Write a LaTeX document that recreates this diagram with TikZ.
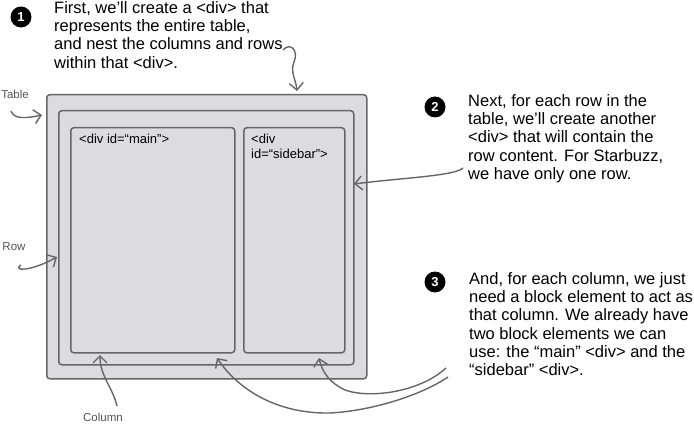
\documentclass[tikz,border=0pt]{standalone}
\usepackage{fontspec}
\setmainfont{Liberation Sans}
\usetikzlibrary{positioning,arrows.meta}
\definecolor{boxfill}{HTML}{DCDCDE}
\definecolor{boxline}{HTML}{666666}
\definecolor{handgray}{HTML}{555555}
\begin{document}
\begin{tikzpicture}[x=1pt,y=-1pt,
      box/.style={draw=boxline,fill=boxfill,line width=1.5pt,rounded corners=3pt,inner sep=0pt,anchor=north west},
      note/.style={anchor=north west,align=left,inner sep=0pt,font=\fontsize{16.5}{18.3}\selectfont},
      num/.style={circle,fill=black,text=white,minimum size=21pt,inner sep=0pt,font=\fontsize{13}{13}\selectfont\bfseries},
      divlabel/.style={anchor=north west,align=left,inner sep=0pt,font=\fontsize{13}{15}\selectfont},
      hand/.style={text=handgray,inner sep=0pt,font=\fontsize{11.5}{11.5}\selectfont},
      curve/.style={draw=boxline,line width=1.4pt,-{Straight Barb[length=7pt,width=14pt]}}
      ]
      \useasboundingbox (0,0) rectangle (694,425);
      % boxes
      \node[box,minimum width=320pt,minimum height=284pt] (table) at (46,94) {};
      \node[box,minimum width=295pt,minimum height=254pt] (row) at (58,110) {};
      \node[box,minimum width=164pt,minimum height=225pt] (main) at (70,127) {};
      \node[box,minimum width=101pt,minimum height=225pt] (sidebar) at (243,127) {};
      \node[divlabel] (mainlabel) at (79,134) {<div id=“main”>};
      \node[divlabel] (sidelabel) at (251,134) {<div\\ id=“sidebar”>};

      % notes
      \node[num] (n1) at (21,17) {1};
      \node[note] (note1) at (54,1) {First, we’ll create a <div> that\\represents the entire table,\\and nest the columns and rows\\within that <div>.};
      \node[num] (n2) at (435,107) {2};
      \node[note] (note2) at (468,94) {Next, for each row in the\\table, we’ll create another\\<div> that will contain the\\row content. For Starbuzz,\\we have only one row.};
      \node[num] (n3) at (435,282) {3};
      \node[note] (note3) at (469,272) {And, for each column, we just\\need a block element to act as\\that column. We already have\\two block elements we can\\use: the “main” <div> and the\\“sidebar” <div>.};

      % hand labels
      \node[hand] (tablelabel) at (15,94) {Table};
      \node[hand] (rowlabel) at (14,247) {Row};
      \node[hand] (collabel) at (103,417) {Column};

      % arrows
      \coordinate (s1) at (283,50);
      \coordinate (s2) at (11,111);
      \coordinate (s3) at (21,265);
      \coordinate (s4) at (117,406);
      \coordinate (s5) at (463,168);
      \coordinate (s6) at (448,377);
      \coordinate (s7) at (446,368);
      \draw[curve] (s1) .. controls (290,42) and (299,50) .. (294,62) .. controls (290,72) and (296,80) .. (297,91);
      \draw[curve] (s2) .. controls (14,120) and (28,118) .. (42,115);
      \draw[curve] (s3) .. controls (12,271) and (30,272) .. (57,257);
      \draw[curve] (s4) .. controls (112,386) and (100,376) .. (100,355);
      \draw[curve] (s5) .. controls (455,176) and (400,178) .. (354,184);
      \draw[curve] (s6) .. controls (420,396) and (370,411) .. (330,413) .. controls (280,414) and (240,392) .. (217,358);
      \draw[curve] (s7) .. controls (420,392) and (370,399) .. (345,390) .. controls (330,383) and (322,372) .. (319,358);
\end{tikzpicture}
\end{document}
